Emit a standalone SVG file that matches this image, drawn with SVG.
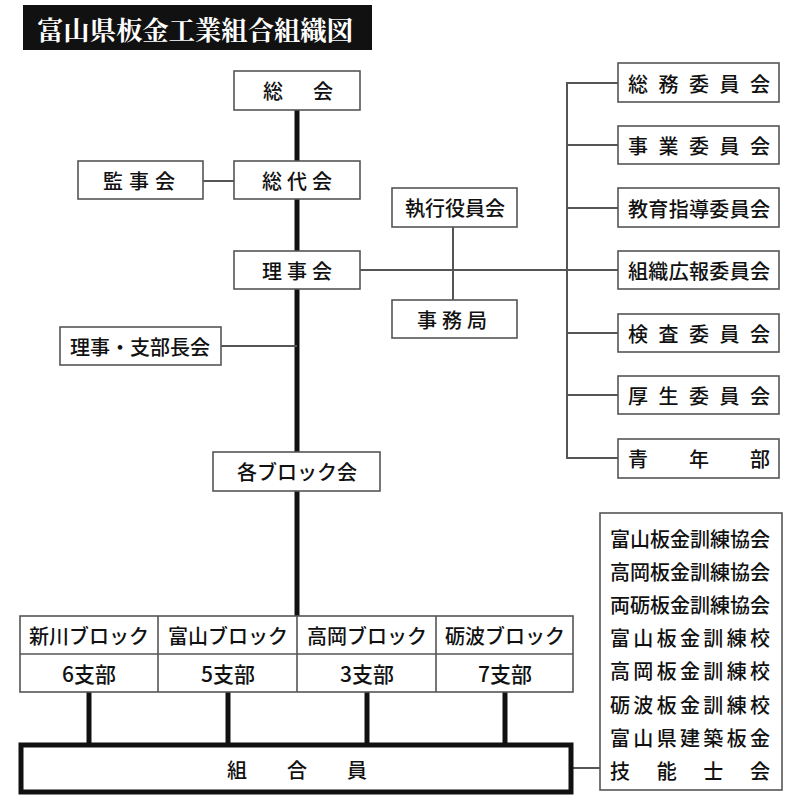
<svg xmlns="http://www.w3.org/2000/svg" width="800" height="800" viewBox="0 0 800 800">
<style>
.box{fill:#fff;stroke:#555;stroke-width:1.6}
.t{font-family:"Noto Sans CJK JP","Noto Sans CJK SC",sans-serif;font-size:20px;font-weight:500;fill:#111;dominant-baseline:central}
.c{text-anchor:middle}
.n{font-size:21px}
.thin{stroke:#555;stroke-width:2;fill:none}
.thick{stroke:#111;stroke-width:5;fill:none}
</style>
<rect width="800" height="800" fill="#fff"/>
<g id="title">
<rect x="23" y="5" width="349" height="45" fill="#111"/>
<text x="37" y="28" textLength="316" lengthAdjust="spacingAndGlyphs" style="font-family:'Noto Serif CJK JP','Noto Sans CJK JP',serif;font-size:26px;font-weight:bold;fill:#fff;dominant-baseline:central">富山県板金工業組合組織図</text>
</g>
<g id="connectors">
<line class="thick" x1="297" y1="110" x2="297" y2="616"/>
<line class="thin" x1="203" y1="181" x2="234" y2="181"/>
<line class="thin" x1="221" y1="346" x2="297" y2="346"/>
<line class="thin" x1="360" y1="270" x2="567" y2="270"/>
<line class="thin" x1="453" y1="227" x2="453" y2="300"/>
<line class="thin" x1="567" y1="82" x2="567" y2="459"/>
<line class="thin" x1="566" y1="83" x2="618" y2="83"/>
<line class="thin" x1="567" y1="145" x2="618" y2="145"/>
<line class="thin" x1="567" y1="208" x2="618" y2="208"/>
<line class="thin" x1="567" y1="270" x2="618" y2="270"/>
<line class="thin" x1="567" y1="333" x2="618" y2="333"/>
<line class="thin" x1="567" y1="395" x2="618" y2="395"/>
<line class="thin" x1="566" y1="458" x2="618" y2="458"/>
<line class="thick" x1="89" y1="692" x2="89" y2="745"/>
<line class="thick" x1="228" y1="692" x2="228" y2="745"/>
<line class="thick" x1="367" y1="692" x2="367" y2="745"/>
<line class="thick" x1="505" y1="692" x2="505" y2="745"/>
<line class="thin" x1="573" y1="768" x2="600" y2="768"/>
</g>
<g id="soukai"><rect class="box" x="234" y="71" width="126" height="39"/><text class="t" x="263" y="90" textLength="70" lengthAdjust="spacing">総会</text></g>
<g id="kanjikai"><rect class="box" x="78" y="161" width="125" height="38"/><text class="t" x="103" y="180" textLength="72" lengthAdjust="spacing">監事会</text></g>
<g id="soudaikai"><rect class="box" x="234" y="161" width="126" height="38"/><text class="t" x="262" y="180" textLength="70" lengthAdjust="spacing">総代会</text></g>
<g id="rijikai"><rect class="box" x="234" y="251" width="126" height="38"/><text class="t" x="262" y="270" textLength="70" lengthAdjust="spacing">理事会</text></g>
<g id="riji-shibuchoukai"><rect class="box" x="60" y="327" width="161" height="38"/><text class="t c" x="140" y="346">理事・支部長会</text></g>
<g id="shikkou"><rect class="box" x="392" y="188" width="125" height="39"/><text class="t c" x="455" y="207">執行役員会</text></g>
<g id="jimukyoku"><rect class="box" x="392" y="300" width="125" height="38"/><text class="t" x="417" y="319" textLength="70" lengthAdjust="spacing">事務局</text></g>
<g id="soumu"><rect class="box" x="618" y="63" width="161" height="39"/><text class="t" x="628" y="83" textLength="142" lengthAdjust="spacing">総務委員会</text></g>
<g id="jigyou"><rect class="box" x="618" y="126" width="161" height="38"/><text class="t" x="628" y="145" textLength="142" lengthAdjust="spacing">事業委員会</text></g>
<g id="kyouiku"><rect class="box" x="618" y="188" width="161" height="39"/><text class="t" x="628" y="208" textLength="142" lengthAdjust="spacing">教育指導委員会</text></g>
<g id="soshiki"><rect class="box" x="618" y="251" width="161" height="38"/><text class="t" x="628" y="270" textLength="142" lengthAdjust="spacing">組織広報委員会</text></g>
<g id="kensa"><rect class="box" x="618" y="314" width="161" height="38"/><text class="t" x="628" y="333" textLength="142" lengthAdjust="spacing">検査委員会</text></g>
<g id="kousei"><rect class="box" x="618" y="376" width="161" height="38"/><text class="t" x="628" y="395" textLength="142" lengthAdjust="spacing">厚生委員会</text></g>
<g id="seinenbu"><rect class="box" x="618" y="439" width="161" height="39"/><text class="t" x="628" y="458" textLength="142" lengthAdjust="spacing">青年部</text></g>
<g id="kaku-block"><rect class="box" x="213" y="452" width="167" height="39"/><text class="t c" x="297" y="471">各ブロック会</text></g>
<g id="blocks">
<rect class="box" x="20" y="616" width="553" height="76"/>
<line class="thin" x1="20" y1="654" x2="573" y2="654" style="stroke-width:1.6"/>
<line class="thin" x1="158" y1="616" x2="158" y2="692" style="stroke-width:1.6"/>
<line class="thin" x1="297" y1="616" x2="297" y2="692" style="stroke-width:1.6"/>
<line class="thin" x1="436" y1="616" x2="436" y2="692" style="stroke-width:1.6"/>
</g>
<g id="niikawa"><text class="t c" x="89" y="635">新川ブロック</text><text class="t c n" x="89" y="673">6支部</text></g>
<g id="toyama"><text class="t c" x="228" y="635">富山ブロック</text><text class="t c n" x="228" y="673">5支部</text></g>
<g id="takaoka"><text class="t c" x="367" y="635">高岡ブロック</text><text class="t c n" x="367" y="673">3支部</text></g>
<g id="tonami"><text class="t c" x="505" y="635">砺波ブロック</text><text class="t c n" x="505" y="673">7支部</text></g>
<g id="kumiaiin"><rect x="21" y="745" width="550" height="47" fill="#fff" stroke="#111" stroke-width="5"/><text class="t" x="227" y="769" textLength="140" lengthAdjust="spacing">組合員</text></g>
<g id="kunren">
<rect class="box" x="600" y="513" width="182" height="277"/>
<text class="t" x="610" y="538" textLength="160" lengthAdjust="spacing">富山板金訓練協会</text>
<text class="t" x="610" y="571" textLength="160" lengthAdjust="spacing">高岡板金訓練協会</text>
<text class="t" x="610" y="604" textLength="160" lengthAdjust="spacing">両砺板金訓練協会</text>
<text class="t" x="610" y="637" textLength="160" lengthAdjust="spacing">富山板金訓練校</text>
<text class="t" x="610" y="670" textLength="160" lengthAdjust="spacing">高岡板金訓練校</text>
<text class="t" x="610" y="704" textLength="160" lengthAdjust="spacing">砺波板金訓練校</text>
<text class="t" x="610" y="737" textLength="160" lengthAdjust="spacing">富山県建築板金</text>
<text class="t" x="610" y="770" textLength="160" lengthAdjust="spacing">技能士会</text>
</g>
</svg>
